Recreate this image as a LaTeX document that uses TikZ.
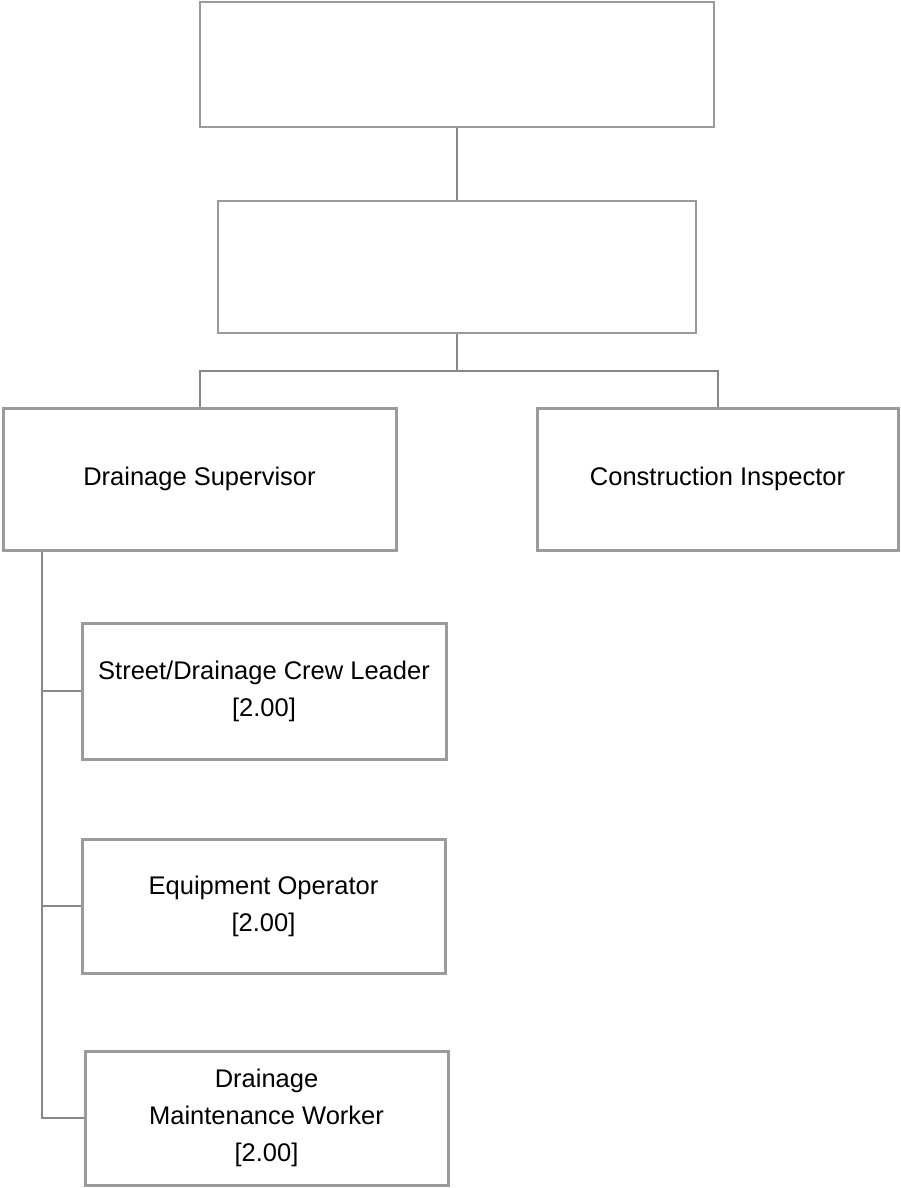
\documentclass[tikz,border=0pt]{standalone}
\usepackage{fontspec}
\setmainfont{Liberation Sans}
\usepackage{tikz}
\usetikzlibrary{calc}

\definecolor{boxgray}{RGB}{155,155,155}
\definecolor{linkgray}{RGB}{136,136,136}

\begin{document}
\begin{tikzpicture}[
  x=1pt, y=-1pt,
  post/.style={draw=boxgray, line width=1.5pt, fill=white, inner sep=0pt,
               align=center, font=\fontsize{25.5}{37}\selectfont},
  unit/.style={post, line width=3pt},
  link/.style={draw=linkgray, line width=2pt}
]
  \useasboundingbox (0,0) rectangle (900,1188);

  % Top levels (empty)
  \node[post, minimum width=514, minimum height=125] (top) at (457,64.5) {};
  \node[post, minimum width=478, minimum height=132] (mid) at (457,267) {};
  \draw[link] (top.south) -- (mid.north);

  % Second level
  \node[unit, minimum width=393, minimum height=142] (sup) at (199.5,479)
    {Drainage Supervisor};
  \node[unit, minimum width=361, minimum height=142] (insp) at (717.5,479)
    {Construction Inspector};
  \coordinate (bus) at (457,371);
  \draw[link] (mid.south) -- (bus);
  \draw[link] (sup.north) |- (bus) -| (insp.north);

  % Crew under the supervisor
  \node[unit, minimum width=364, minimum height=136] (crew) at (264,691)
    {Street/Drainage Crew Leader\\{}[2.00]};
  \node[unit, minimum width=363, minimum height=134] (equip) at (263.5,906)
    {Equipment Operator\\{}[2.00]};
  \node[unit, minimum width=363, minimum height=134] (worker) at (266.5,1118)
    {Drainage\\Maintenance Worker\\{}[2.00]};

  \coordinate (spine) at ($(sup.south west)+(40,0)$);
  \draw[link] (spine) |- (worker.west);
  \draw[link] (spine |- crew.west) -- (crew.west);
  \draw[link] (spine |- equip.west) -- (equip.west);
\end{tikzpicture}
\end{document}
